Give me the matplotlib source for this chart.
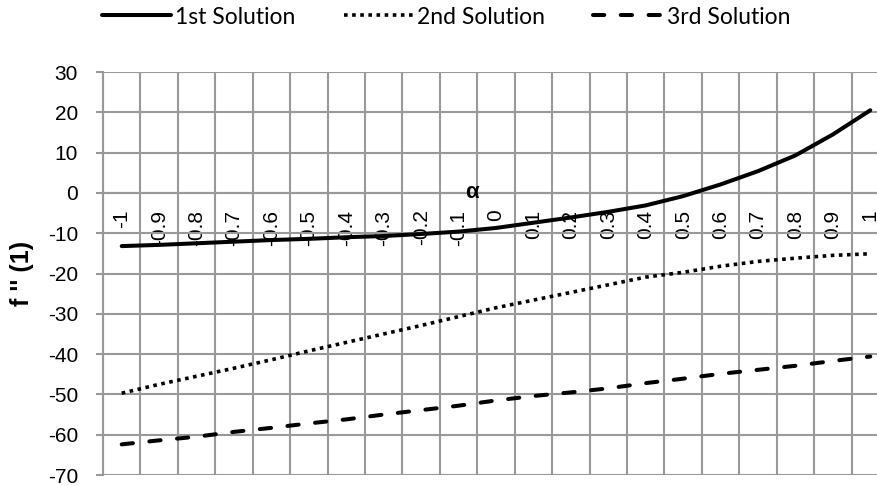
import matplotlib
matplotlib.use("Agg")
import matplotlib.pyplot as plt

alpha_labels = ["-1", "-0.9", "-0.8", "-0.7", "-0.6", "-0.5", "-0.4", "-0.3", "-0.2", "-0.1",
                "0", "0.1", "0.2", "0.3", "0.4", "0.5", "0.6", "0.7", "0.8", "0.9", "1"]
sol1 = [-13.2, -12.9, -12.5, -12.1, -11.7, -11.4, -11.0, -10.7, -10.2, -9.6,
        -8.7, -7.4, -6.1, -4.7, -3.1, -0.8, 2.1, 5.4, 9.3, 14.5, 20.5]
sol2 = [-49.7, -47.5, -45.5, -43.5, -41.4, -39.2, -37.1, -35.0, -32.9, -30.7,
        -28.5, -26.6, -24.7, -22.8, -20.9, -19.7, -18.2, -17.0, -16.2, -15.5, -15.1]
sol3 = [-62.4, -61.4, -60.5, -59.3, -58.3, -57.2, -56.2, -55.0, -53.9, -52.8,
        -51.5, -50.4, -49.5, -48.5, -47.2, -46.1, -44.9, -43.9, -42.9, -41.7, -40.6]
series_names = ["1st Solution", "2nd Solution", "3rd Solution"]
yticks = [30, 20, 10, 0, -10, -20, -30, -40, -50, -60, -70]

plt.rcParams["font.family"] = ["Liberation Sans", "DejaVu Sans"]

W, H = 877, 486
fig = plt.figure(figsize=(W / 100, H / 100), dpi=100)
left, right, top, bottom = 103, 889, 72, 475
ax = fig.add_axes([left / W, 1 - bottom / H, (right - left) / W, (bottom - top) / H])

grid_c = "#999999"
for s in ["top", "right"]:
    ax.spines[s].set_visible(False)
ax.spines["bottom"].set_position(("data", 0))
ax.spines["left"].set_color(grid_c)
ax.spines["left"].set_linewidth(1.5)
ax.spines["bottom"].set_color(grid_c)
ax.spines["bottom"].set_linewidth(1.5)

x = list(range(len(alpha_labels)))

l1, = ax.plot(x, sol1, color="black", lw=2.9, solid_capstyle="round", zorder=3)
l2, = ax.plot(x, sol2, color="black", lw=2.6, linestyle=(0, (1.0, 1.25)),
              dash_capstyle="butt", zorder=3)
l3, = ax.plot(x, sol3, color="black", lw=2.9, linestyle=(0, (2.8, 4.1)),
              dash_capstyle="round", zorder=3)

ax.set_xlim(-0.5, len(x) - 0.5)
ax.set_ylim(-70, 30)
ax.set_yticks(yticks)
ax.set_yticklabels([str(v) for v in yticks])
ax.set_xticks(x)
ax.set_xticklabels(alpha_labels)
ax.set_xticks([i - 0.5 for i in range(len(x) + 1)], minor=True)

ax.grid(True, which="minor", axis="x", color=grid_c, lw=1.5)
ax.grid(True, which="major", axis="y", color=grid_c, lw=1.5)
ax.set_axisbelow(True)

ax.tick_params(axis="y", which="major", direction="out", length=5, width=1.5,
               color=grid_c, pad=13, labelsize=15)
ax.tick_params(axis="x", which="major", length=0, pad=12, labelsize=15, labelrotation=90)
ax.tick_params(axis="x", which="minor", length=0)
for t in ax.get_xticklabels():
    t.set_va("top")
    t.set_ha("center")

ax.set_ylabel("f '' (1)", fontsize=18, fontweight="bold")
ax.yaxis.set_label_coords((34 - left) / (right - left), 0.5)

fig.text(472 / W, 1 - 192 / H, "α", fontsize=16, fontweight="bold",
         ha="center", va="center")

fig.legend([l1, l2, l3], series_names, loc="center", bbox_to_anchor=(446 / W, 1 - 17 / H),
           ncol=3, frameon=False, prop={"family": "Lato", "size": 16.5},
           handlelength=3.0, handletextpad=0.2, columnspacing=2.1)

fig.savefig("out.png", dpi=100)
